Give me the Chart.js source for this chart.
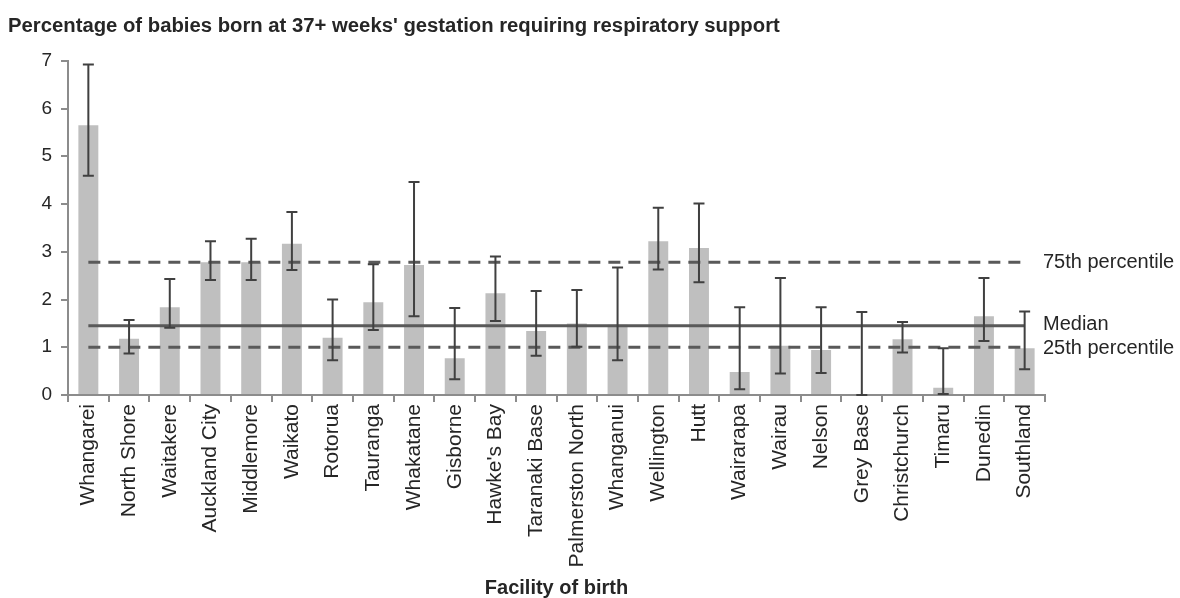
<!DOCTYPE html>
<html>
<head>
<meta charset="utf-8">
<script src="https://cdn.jsdelivr.net/npm/chart.js@4/dist/chart.umd.min.js"></script>
<style>
    html, body { margin: 0; padding: 0; background: #fff; }
    #wrap { width: 1180px; height: 598px; position: relative; }
</style>
</head>
<body>
<div id="wrap"><canvas id="respChart"></canvas></div>
<script>
// Facilities (x categories)
const facilities = [
    'Whangarei', 'North Shore', 'Waitakere', 'Auckland City', 'Middlemore', 'Waikato',
    'Rotorua', 'Tauranga', 'Whakatane', 'Gisborne', "Hawke's Bay", 'Taranaki Base',
    'Palmerston North', 'Whanganui', 'Wellington', 'Hutt', 'Wairarapa', 'Wairau',
    'Nelson', 'Grey Base', 'Christchurch', 'Timaru', 'Dunedin', 'Southland'
];

// % of babies requiring respiratory support
const percentValues = [
    5.65, 1.18, 1.84, 2.78, 2.78, 3.17,
    1.20, 1.94, 2.72, 0.77, 2.13, 1.34,
    1.50, 1.47, 3.22, 3.08, 0.48, 1.03,
    0.94, 0.00, 1.17, 0.15, 1.65, 0.98
];

// 95% CI upper / lower
const ciUpper = [
    6.92, 1.57, 2.43, 3.22, 3.27, 3.83,
    2.00, 2.74, 4.46, 1.82, 2.90, 2.18,
    2.20, 2.67, 3.92, 4.01, 1.84, 2.45,
    1.84, 1.74, 1.53, 0.98, 2.45, 1.75
];
const ciLower = [
    4.59, 0.87, 1.41, 2.41, 2.41, 2.62,
    0.73, 1.36, 1.65, 0.33, 1.55, 0.82,
    1.01, 0.73, 2.63, 2.36, 0.12, 0.45,
    0.46, 0.00, 0.89, 0.02, 1.13, 0.54
];

// Reference lines
const p75Value = 2.78;
const medianValue = 1.45;
const p25Value = 1.00;

const yTicks = [0, 1, 2, 3, 4, 5, 6, 7];

const FONT = '"Liberation Sans", Arial, sans-serif';
const TEXT_COLOR = '#262626';
const LINE_COLOR = '#595959';
const AXIS_COLOR = '#8c8c8c';

// Draw the CI whiskers on top of the bars
const errorBarPlugin = {
    id: 'errorBars',
    afterDatasetsDraw(chart) {
        const { ctx, scales: { x, y } } = chart;
        ctx.save();
        ctx.strokeStyle = '#404040';
        ctx.lineWidth = 2;
        const capHalf = 5.5;
        facilities.forEach((f, i) => {
            const px = x.getPixelForValue(i);
            const top = y.getPixelForValue(ciUpper[i]);
            const bot = y.getPixelForValue(ciLower[i]);
            ctx.beginPath();
            ctx.moveTo(px, top);
            ctx.lineTo(px, bot);
            ctx.moveTo(px - capHalf, top);
            ctx.lineTo(px + capHalf, top);
            ctx.moveTo(px - capHalf, bot);
            ctx.lineTo(px + capHalf, bot);
            ctx.stroke();
        });
        ctx.restore();
    }
};

// Labels for the reference lines, to the right of the plot
const refLabelPlugin = {
    id: 'refLabels',
    afterDraw(chart) {
        const { ctx, chartArea, scales: { y } } = chart;
        ctx.save();
        ctx.font = '20px ' + FONT;
        ctx.fillStyle = TEXT_COLOR;
        ctx.textAlign = 'left';
        ctx.textBaseline = 'middle';
        const lx = chartArea.right - 2;
        ctx.fillText('75th percentile', lx, y.getPixelForValue(p75Value));
        ctx.fillText('Median', lx, y.getPixelForValue(medianValue) - 1);
        ctx.fillText('25th percentile', lx, y.getPixelForValue(p25Value) + 1);
        ctx.restore();
    }
};

const first = facilities[0];
const last = facilities[facilities.length - 1];

new Chart(document.getElementById('respChart'), {
    type: 'bar',
    data: {
        labels: facilities,
        datasets: [
            {
                type: 'line',
                data: [{ x: first, y: medianValue }, { x: last, y: medianValue }],
                borderColor: LINE_COLOR,
                borderWidth: 3,
                pointRadius: 0,
                order: 0
            },
            {
                type: 'line',
                data: [{ x: first, y: p75Value }, { x: last, y: p75Value }],
                borderColor: LINE_COLOR,
                borderWidth: 3,
                borderDash: [12, 8],
                pointRadius: 0,
                order: 0
            },
            {
                type: 'line',
                data: [{ x: first, y: p25Value }, { x: last, y: p25Value }],
                borderColor: LINE_COLOR,
                borderWidth: 3,
                borderDash: [12, 8],
                pointRadius: 0,
                order: 0
            },
            {
                label: 'Percentage',
                data: percentValues,
                backgroundColor: '#bfbfbf',
                categoryPercentage: 1,
                barPercentage: 0.49,
                order: 1
            }
        ]
    },
    options: {
        responsive: true,
        maintainAspectRatio: false,
        animation: false,
        layout: { padding: { left: 8, right: 135, top: 0, bottom: 0 } },
        plugins: {
            legend: { display: false },
            tooltip: { enabled: false },
            title: {
                display: true,
                align: 'start',
                text: "Percentage of babies born at 37+ weeks' gestation requiring respiratory support",
                color: TEXT_COLOR,
                font: { family: FONT, size: 20.3, weight: 'bold', lineHeight: 1.2 },
                padding: { top: 14, bottom: 22.4 }
            }
        },
        scales: {
            x: {
                grid: {
                    display: true,
                    drawOnChartArea: false,
                    drawTicks: true,
                    tickLength: 7,
                    color: AXIS_COLOR,
                    lineWidth: 2
                },
                border: { color: AXIS_COLOR, width: 2 },
                ticks: {
                    color: TEXT_COLOR,
                    font: { family: FONT, size: 21 },
                    minRotation: 90,
                    maxRotation: 90,
                    autoSkip: false,
                    padding: 2
                },
                title: {
                    display: true,
                    text: 'Facility of birth',
                    color: TEXT_COLOR,
                    font: { family: FONT, size: 20, weight: 'bold', lineHeight: 1 },
                    padding: { top: 0, bottom: 0 }
                },
                afterFit(scale) { scale.height = 203; }
            },
            y: {
                min: 0,
                max: 7,
                afterBuildTicks(scale) { scale.ticks = yTicks.map(v => ({ value: v })); },
                grid: {
                    display: true,
                    drawOnChartArea: false,
                    drawTicks: true,
                    tickLength: 7,
                    color: AXIS_COLOR,
                    lineWidth: 2
                },
                border: { color: AXIS_COLOR, width: 2 },
                ticks: {
                    color: TEXT_COLOR,
                    font: { family: FONT, size: 19 },
                    padding: 9
                },
                afterFit(scale) { scale.width = 60; }
            }
        }
    },
    plugins: [errorBarPlugin, refLabelPlugin]
});
</script>
</body>
</html>
